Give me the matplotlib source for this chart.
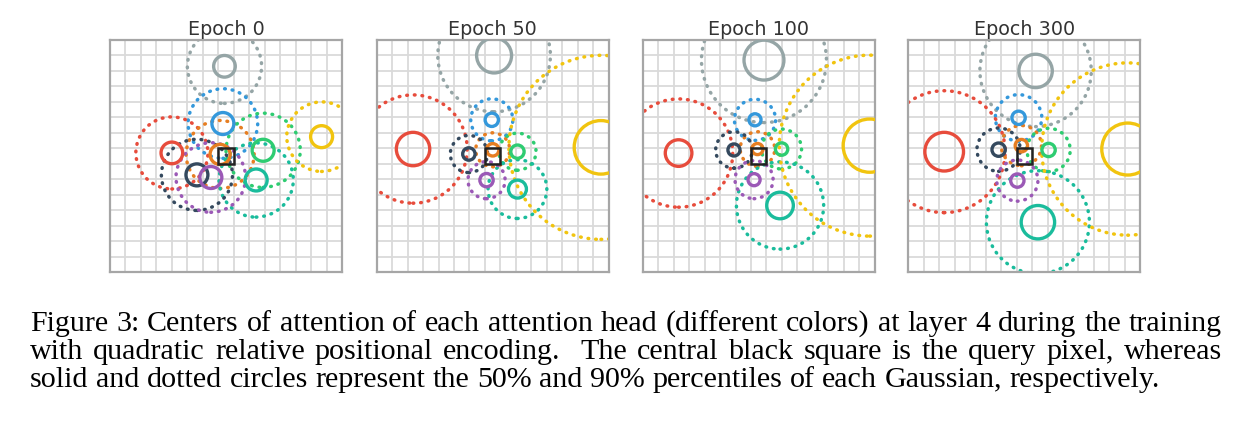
import math
import matplotlib
matplotlib.use("Agg")
import matplotlib.pyplot as plt
from matplotlib.patches import Circle, Rectangle
from matplotlib.font_manager import FontProperties
import numpy as np

# ---------------- data ----------------
titles = ["Epoch 0", "Epoch 50", "Epoch 100", "Epoch 300"]
head_colors = ["#95a5a6", "#3498db", "#e74c3c", "#e67e22", "#2ecc71",
               "#1abc9c", "#f1c40f", "#34495e", "#9b59b6"]

# per epoch: centers (x, y), 50% radius, 90% radius  (heads in head_colors order)
ep0_x = [-0.10, -0.20, -3.50, -0.38, 2.40, 1.95, 6.18, -1.88, -0.98]
ep0_y = [5.80, 2.10, 0.20, 0.10, 0.37, -1.55, 1.25, -1.22, -1.39]
ep0_r50 = [0.70, 0.71, 0.70, 0.65, 0.71, 0.71, 0.71, 0.71, 0.71]
ep0_r90 = [2.40, 2.25, 2.33, 2.20, 2.40, 2.40, 2.25, 2.30, 2.25]

ep50_x = [0.09, -0.06, -5.15, 0.00, 1.60, 1.60, 7.00, -1.54, -0.40]
ep50_y = [6.50, 2.34, 0.45, 0.40, 0.28, -2.14, 0.56, 0.13, -1.56]
ep50_r50 = [1.13, 0.43, 1.08, 0.40, 0.43, 0.58, 1.73, 0.40, 0.43]
ep50_r90 = [3.64, 1.36, 3.50, 1.10, 1.20, 1.90, 5.95, 1.20, 1.20]

ep100_x = [0.34, -0.24, -5.18, -0.08, 1.48, 1.38, 7.18, -1.60, -0.30]
ep100_y = [6.20, 2.34, 0.19, 0.45, 0.45, -3.20, 0.67, 0.39, -1.53]
ep100_r50 = [1.29, 0.39, 0.86, 0.36, 0.40, 0.86, 1.72, 0.39, 0.39]
ep100_r90 = [4.04, 1.33, 3.50, 1.12, 1.29, 2.82, 5.85, 1.18, 1.23]

ep300_x = [0.73, -0.37, -5.18, -0.19, 1.57, 0.88, 6.69, -1.66, -0.45]
ep300_y = [5.50, 2.47, 0.28, 0.67, 0.39, -4.28, 0.45, 0.41, -1.59]
ep300_r50 = [1.08, 0.43, 1.25, 0.40, 0.43, 1.08, 1.68, 0.43, 0.43]
ep300_r90 = [3.60, 1.50, 3.94, 1.30, 1.40, 3.33, 5.57, 1.40, 1.33]

epochs = [
    (ep0_x, ep0_y, ep0_r50, ep0_r90),
    (ep50_x, ep50_y, ep50_r50, ep50_r90),
    (ep100_x, ep100_y, ep100_r50, ep100_r90),
    (ep300_x, ep300_y, ep300_r50, ep300_r90),
]
grid_half = 7.5  # 15 x 15 pixel grid centred on the query pixel

caption_lines = [
    "Figure 3: Centers of attention of each attention head (different colors) at layer 4 during the training",
    "with quadratic relative positional encoding.  The central black square is the query pixel, whereas",
    "solid and dotted circles represent the 50% and 90% percentiles of each Gaussian, respectively.",
]

# ---------------- figure ----------------
W, H = 1248, 439
fig = plt.figure(figsize=(W / 100, H / 100), dpi=100)
fig.patch.set_facecolor("white")

lefts = [110, 376.7, 642.7, 908.3]
size_px = 232
top_px = 41

for i, (xs, ys, r50s, r90s) in enumerate(epochs):
    ax = fig.add_axes([lefts[i] / W, 1 - (top_px + size_px) / H, size_px / W, size_px / H])
    ax.set_xlim(-grid_half, grid_half)
    ax.set_ylim(-grid_half, grid_half)
    ax.set_aspect("equal")
    ticks = np.arange(-grid_half, grid_half + 0.01, 1.0)
    ax.set_xticks(ticks)
    ax.set_yticks(ticks)
    ax.tick_params(length=0, labelbottom=False, labelleft=False)
    ax.grid(True, color="#dadada", lw=1.3)
    ax.set_axisbelow(True)
    for s in ax.spines.values():
        s.set_color("#a6a6a6")
        s.set_linewidth(1.6)
    for j, c in enumerate(head_colors):
        ax.add_patch(Circle((xs[j], ys[j]), r90s[j], fill=False, ec=c, lw=2.5,
                            ls=(0, (0.2, 2.0)), capstyle="round", zorder=2))
    for j, c in enumerate(head_colors):
        ax.add_patch(Circle((xs[j], ys[j]), r50s[j], fill=False, ec=c, lw=2.4, zorder=3))
    ax.add_patch(Rectangle((-0.5, -0.5), 1, 1, fill=False, ec="#222222", lw=1.8, zorder=4))
    ax.set_title(titles[i], fontsize=13.8, color="#333333", pad=4.5,
                 family="DejaVu Sans")

# ---------------- caption (justified, one text per word) ----------------
fig.canvas.draw()
renderer = fig.canvas.get_renderer()
cap_left, cap_right = 30, 1222
baselines = [331, 359, 387]   # pixel rows from the top
fam = "Liberation Serif"

def width_at(s, size):
    t = fig.text(0, 0, s, family=fam, fontsize=size)
    w = t.get_window_extent(renderer).width
    t.remove()
    return w

fs = 10 * (1160 - cap_left) / width_at(caption_lines[2], 10)

def width_of(s):
    return width_at(s, fs)

# compensate Agg's per-word bitmap rounding so all words share one baseline
try:
    from matplotlib.backends.backend_agg import get_hinting_flag
    _font = renderer._prepare_font(FontProperties(family=fam, size=fs))

    def row_error(word, row):
        _font.set_text(word, 0, flags=get_hinting_flag())
        dd = _font.get_descent() / 64.0
        hh = _font.get_width_height()[1] / 64.0
        a = hh - dd
        got = round(row + dd) - math.floor(a + dd) + math.floor(a)
        return got - row
except Exception:
    def row_error(word, row):
        return 0

def put_word(x, row, word):
    e = row_error(word, row)
    fig.text(x / W, (H - row + e + 1e-3) / H, word, family=fam, fontsize=fs,
             color="black", va="baseline", ha="left")

for li, line in enumerate(caption_lines):
    row = baselines[li]
    tokens = line.split(" ")
    words, gaps = [], []
    pending = 0
    for tok in tokens:
        if tok == "":
            pending += 1
            continue
        if words:
            gaps.append(1 + pending)
        words.append(tok)
        pending = 0
    widths = [width_of(w) for w in words]
    if li == len(caption_lines) - 1:
        sp = width_of("x x") - width_of("xx")
        unit = sp
    else:
        unit = ((cap_right - cap_left) - sum(widths)) / sum(gaps)
    x = cap_left
    for wi, w in enumerate(words):
        put_word(x, row, w)
        if wi < len(gaps):
            x += widths[wi] + unit * gaps[wi]

fig.savefig("out.png", dpi=100, facecolor="white")
